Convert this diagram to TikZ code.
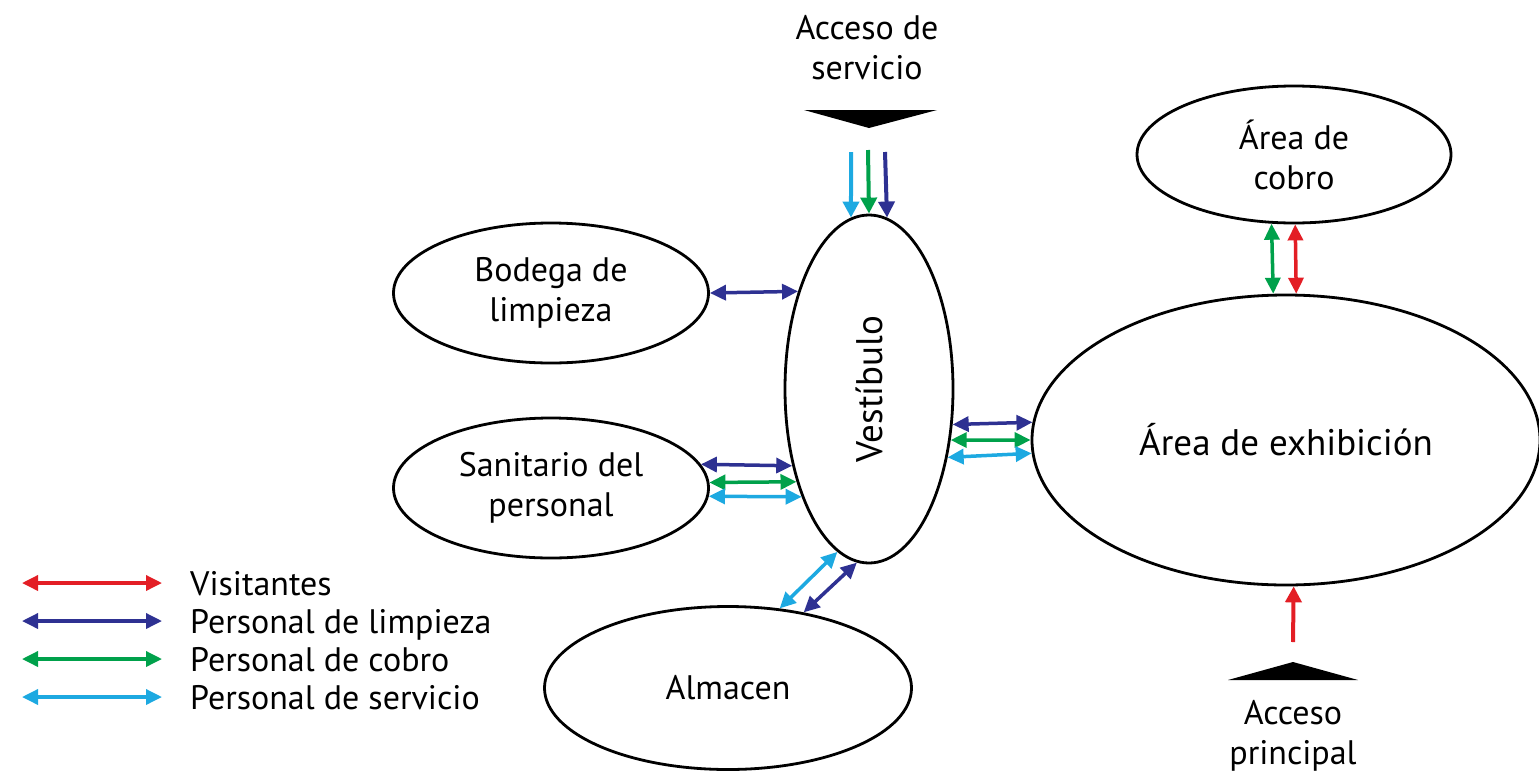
\documentclass[tikz,border=0pt]{standalone}
\usepackage{fontspec}
\setmainfont{PT Sans}
\usetikzlibrary{positioning,arrows.meta,shapes.geometric}
\definecolor{flowRed}{HTML}{E31E25}
\definecolor{flowNavy}{HTML}{2E3192}
\definecolor{flowGreen}{HTML}{00A14B}
\definecolor{flowSky}{HTML}{1DA9E1}
\newcommand{\zonefont}{\fontsize{34}{40}\selectfont}
\newcommand{\bigzonefont}{\fontsize{37}{44}\selectfont}
\tikzset{
  zone/.style    = {ellipse, draw=black, line width=2.8pt, inner sep=0pt,
                    align=center, font=\zonefont},
  tag/.style     = {align=center, font=\zonefont, inner sep=0pt},
  keytext/.style = {font=\zonefont, inner sep=0pt, text height=25pt,
                    text depth=1pt},
  flow/.style    = {{Triangle[length=16pt,width=15pt]}-{Triangle[length=16pt,width=15pt]},
                    line width=3.5pt},
  inflow/.style  = {-{Triangle[length=16pt,width=16pt]}, line width=4pt},
  gate/.style    = {fill=black, draw=none},
}

\begin{document}
\begin{tikzpicture}[x=1pt,y=-1pt]
  \useasboundingbox (0,0) rectangle (1539,774);

  % zones
  \node[zone, minimum width=168pt, minimum height=348pt] (vest) at (869,389) {};
  \node[tag, rotate=90, font=\bigzonefont] (vestTxt) at (vest.center) {Vestíbulo};
  \node[zone, minimum width=315pt, minimum height=140pt] (bodega) at (551,293)
    {Bodega de\\limpieza};
  \node[zone, minimum width=315pt, minimum height=140pt] (sanit) at (551,488)
    {Sanitario del\\personal};
  \node[zone, minimum width=367pt, minimum height=163pt] (almacen) at (728,688)
    {Almacen};
  \node[zone, minimum width=314pt, minimum height=137pt] (cobro) at (1294,154.5)
    {Área de\\cobro};
  \node[zone, minimum width=508pt, minimum height=290pt, font=\bigzonefont]
    (exhib) at (1286,440) {Área de exhibición};

  % accesses
  \node[tag] (svcTxt) at (867,48) {Acceso de\\servicio};
  \fill[gate] (804,110) -- (937,110) -- (869,128) -- cycle;
  \node[tag] (mainTxt) at (1293,736) {Acceso\\principal};
  \fill[gate] (1228,680) -- (1358,680) -- (1293,662) -- cycle;

  \coordinate (svcA) at (851,152);
  \coordinate (svcB) at (868,150);
  \coordinate (svcC) at (885,152);
  \coordinate (mainIn) at (1293,642);

  % flows
  \draw[inflow, draw=flowSky]   (svcA) -- (vest.96);
  \draw[inflow, draw=flowGreen] (svcB) -- (vest.90);
  \draw[inflow, draw=flowNavy]  (svcC) -- (vest.84.6);
  \draw[inflow, draw=flowRed]   (mainIn) -- (exhib.-87.3);

  \draw[flow, draw=flowNavy]  (bodega.east) -- (vest.126);
  \draw[flow, draw=flowNavy]  (sanit.9.2) -- (vest.225);
  \draw[flow, draw=flowGreen] (sanit.2.6) -- (vest.232);
  \draw[flow, draw=flowSky]   (sanit.-3.3) -- (vest.238.6);
  \draw[flow, draw=flowNavy]  (vest.-23) -- (exhib.176.4);
  \draw[flow, draw=flowGreen] (vest.-32.4) -- (exhib.180);
  \draw[flow, draw=flowSky]   (vest.-41.3) -- (exhib.183.85);
  \draw[flow, draw=flowSky]   (almacen.57.5) -- (vest.259.2);
  \draw[flow, draw=flowNavy]  (almacen.45.6) -- (vest.266.4);
  \draw[flow, draw=flowGreen] (cobro.252) -- (exhib.95.4);
  \draw[flow, draw=flowRed]   (cobro.271) -- (exhib.86.5);

  % legend
  \foreach \col/\txt [count=\i] in {flowRed/Visitantes, flowNavy/Personal de limpieza,
      flowGreen/Personal de cobro, flowSky/Personal de servicio} {
    \coordinate (key\i a) at (22,{545+38*\i});
    \coordinate (key\i b) at (162,{545+38*\i});
    \draw[flow, draw=\col] (key\i a) -- (key\i b);
    \node[keytext, right=28pt of key\i b] (key\i t) {\txt};
  }
\end{tikzpicture}
\end{document}
